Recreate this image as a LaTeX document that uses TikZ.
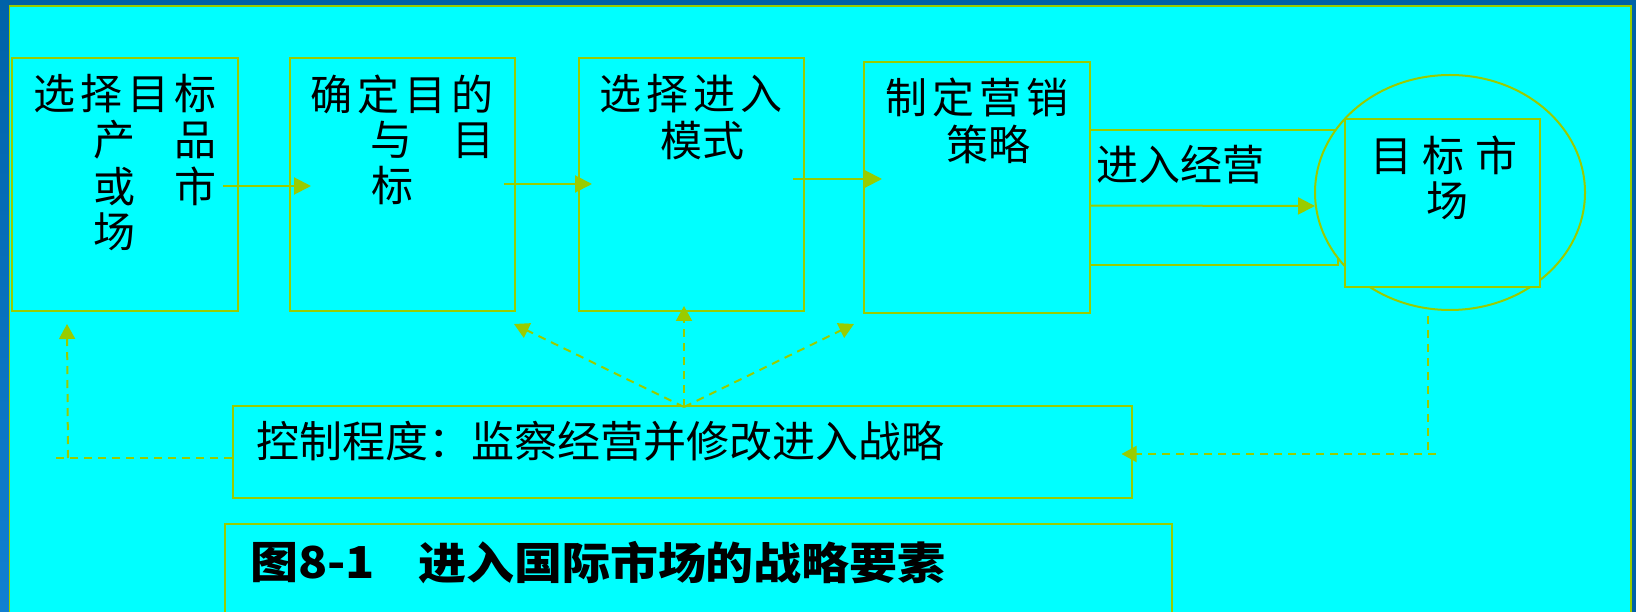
\documentclass[tikz,border=0pt]{standalone}
\usepackage{fontspec}
\newfontfamily\cjk{Noto Sans CJK SC}
\newfontfamily\cjktitle[FakeStretch=1.09]{Noto Sans CJK SC}
\usetikzlibrary{shapes.geometric,arrows.meta,calc}
\definecolor{lineg}{RGB}{153,204,0}
\definecolor{bgcyan}{RGB}{0,255,255}
\definecolor{frameblue}{RGB}{0,98,168}
\definecolor{frameblue2}{RGB}{16,128,210}
\newcommand\gp{\hspace{5pt}}
\begin{document}
\begin{tikzpicture}[x=1pt,y=-1pt,
  box/.style={draw=lineg, line width=2pt, fill=bgcyan, rectangle, inner sep=0pt},
  txt/.style={inner sep=0pt, text=black, font=\cjk\fontsize{42}{42}\selectfont},
  ttl/.style={inner sep=0pt, text=black, font=\cjktitle\bfseries\fontsize{44}{44}\selectfont},
  arr/.style={draw=lineg, line width=2pt, -{Triangle[length=17pt,width=17pt]}},
  darr/.style={draw=lineg, line width=2pt, dash pattern=on 8pt off 6pt, -{Triangle[length=15pt,width=16pt]}},
  dline/.style={draw=lineg, line width=2pt, dash pattern=on 8pt off 6pt},
]
\useasboundingbox (0,0) rectangle (1636,612);
% frame
\fill[frameblue] (0,0) rectangle (1636,612);
\shade[top color=frameblue, bottom color=frameblue2] (0,0) rectangle (10,612);
\draw[fill=bgcyan, draw=lineg, line width=1.5pt] (9.6,6) rectangle (1631,640);

% boxes
\node[box, minimum width=226.5pt, minimum height=253pt] (b1) at (124.75,184.5) {};
\node[box, minimum width=225pt, minimum height=253pt] (b2) at (402.5,184.5) {};
\node[box, minimum width=225pt, minimum height=253pt] (b3) at (691.5,184.5) {};
\node[box, minimum width=226pt, minimum height=251pt] (b4) at (977,187.5) {};
\node[box, minimum width=248pt, minimum height=135pt] (strip) at (1214,197.5) {};
\node[box, ellipse, minimum width=270pt, minimum height=235pt] (ell) at (1450,192.5) {};
\node[box, minimum width=195pt, minimum height=168pt] (tm) at (1442.5,203) {};
\node[box, minimum width=898.5pt, minimum height=92pt] (b5) at (682.25,452) {};
\node[box, minimum width=946.5pt, minimum height=116pt] (b6) at (698.25,582) {};

% texts
\node[txt] (t1a) at (125,94) {选\gp 择\gp 目\gp 标};
\node[txt] (t1b) at (155,140) {产\hspace{40pt}品};
\node[txt] (t1c) at (155,186) {或\hspace{40pt}市};
\node[txt] (t1d) at (114,232) {场};

\node[txt] (t2a) at (402,94) {确\gp 定\gp 目\gp 的};
\node[txt] (t2b) at (432.5,140) {与\hspace{40pt}目};
\node[txt] (t2c) at (392,186) {标};

\node[txt] (t3a) at (691,93.5) {选\gp 择\gp 进\gp 入};
\node[txt] (t3b) at (702,141) {模式};

\node[txt] (t4a) at (977,97.5) {制\gp 定\gp 营\gp 销};
\node[txt] (t4b) at (988,144) {策略};

\node[txt] (ts) at (1180,165) {进入经营};

\node[txt] (tma) at (1444,155) {目\hspace{11pt}标\hspace{11pt}市};
\node[txt] (tmb) at (1447,201) {场};

\node[txt, anchor=west, font=\cjk\fontsize{43}{43}\selectfont] (t5) at (256,441) {控制程度：监察经营并修改进入战略};

\node[ttl, anchor=west] (t6a) at (250,563) {图8-1};
\node[ttl, anchor=west] (t6b) at (418,563) {进入国际市场的战略要素};

% solid arrows
\draw[arr] ($(b1.east)+(-16,1.5)$) -- ($(b2.west)+(22,1.5)$);
\draw[arr] ($(b2.east)+(-12,-0.5)$) -- ($(b3.west)+(14,-0.5)$);
\draw[arr] ($(b3.east)+(-12,-5.5)$) -- ($(b4.west)+(19,-8.5)$);
\draw[arr] ($(strip.west)+(0,8)$) -- ($(ell.west)+(1,13.5)$);

% dashed feedback
\coordinate (lc) at (55,458);
\coordinate (lv) at (68,458);
\draw[dline] ($(b5.west)+(0,6)$) -- (lc);
\draw[darr] (lv) -- ($(b1.south west)+(56.5,12)$);

\coordinate (rc) at (1436,454);
\coordinate (rv) at (1428,454);
\draw[dline] ($(ell.south)+(-22,5)$) -- (rv);
\draw[darr] (rc) -- ($(b5.east)+(-11,2)$);

\draw[darr] ($(b5.north)+(1.75,2)$) -- ($(b2.south east)+(-2,12)$);
\draw[darr] ($(b5.north)+(1.75,2)$) -- ($(b3.south)+(-7.5,-6)$);
\draw[darr] ($(b5.north)+(1.75,2)$) -- ($(b4.south west)+(-9,10)$);
\end{tikzpicture}
\end{document}
